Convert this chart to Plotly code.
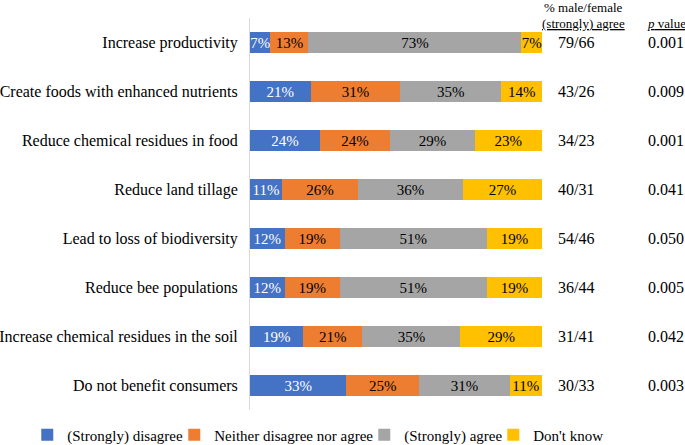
import plotly.graph_objects as go

categories = [
    "Increase productivity",
    "Create foods with enhanced nutrients",
    "Reduce chemical residues in food",
    "Reduce land tillage",
    "Lead to loss of biodiversity",
    "Reduce bee populations",
    "Increase chemical residues in the soil",
    "Do not benefit consumers",
]
series_names = ["(Strongly) disagree", "Neither disagree nor agree", "(Strongly) agree", "Don't know"]
disagree = [7, 21, 24, 11, 12, 12, 19, 33]
neither = [13, 31, 24, 26, 19, 19, 21, 25]
agree = [73, 35, 29, 36, 51, 51, 35, 31]
dont_know = [7, 14, 23, 27, 19, 19, 29, 11]
male_female = ["79/66", "43/26", "34/23", "40/31", "54/46", "36/44", "31/41", "30/33"]
p_values = ["0.001", "0.009", "0.001", "0.041", "0.050", "0.005", "0.042", "0.003"]

colors = ["#4472C4", "#ED7D31", "#A5A5A5", "#FFC000"]
text_colors = ["white", "black", "black", "black"]
legend_widths = [102, 145, 84, 80]
FONT = "Liberation Serif"

fig = go.Figure()
for name, vals, col, tcol, lw in zip(series_names, [disagree, neither, agree, dont_know],
                                     colors, text_colors, legend_widths):
    fig.add_trace(go.Bar(
        y=categories, x=vals, name=name, orientation="h",
        marker=dict(color=col, line=dict(width=0)),
        text=[f"{v}%" for v in vals], textposition="inside",
        insidetextanchor="middle", textangle=0,
        insidetextfont=dict(color=tcol, size=15, family=FONT),
        legendwidth=lw,
    ))

for cat, mf, pv in zip(categories, male_female, p_values):
    fig.add_annotation(x=0.749, y=cat, xref="paper", yref="y", text=mf, showarrow=False,
                       font=dict(size=16, family=FONT, color="black"), xanchor="center")
    fig.add_annotation(x=0.957, y=cat, xref="paper", yref="y", text=pv, showarrow=False,
                       font=dict(size=16, family=FONT, color="black"), xanchor="center")

fig.add_annotation(x=0.766, y=1.028, xref="paper", yref="paper", text="% male/female", showarrow=False,
                   font=dict(size=13, family=FONT, color="black"), xanchor="center", yanchor="middle")
fig.add_annotation(x=0.766, y=0.985, xref="paper", yref="paper",
                   text='<span style="text-decoration:underline">(strongly) agree</span>', showarrow=False,
                   font=dict(size=13, family=FONT, color="black"), xanchor="center", yanchor="middle")
fig.add_annotation(x=0.957, y=0.985, xref="paper", yref="paper",
                   text='<span style="text-decoration:underline"><i>p</i> value</span>', showarrow=False,
                   font=dict(size=13, family=FONT, color="black"), xanchor="center", yanchor="middle")

fig.update_layout(
    width=685, height=445,
    barmode="stack", barnorm="percent", bargap=0.59,
    margin=dict(l=250, r=0, t=18, b=35, autoexpand=False),
    plot_bgcolor="white", paper_bgcolor="white",
    font=dict(family=FONT, size=15, color="black"),
    uniformtext=dict(minsize=15, mode="show"),
    xaxis=dict(domain=[0, 0.671], range=[0, 100], visible=False, fixedrange=True, automargin=False),
    yaxis=dict(autorange="reversed", showline=True, linecolor="#D9D9D9", linewidth=1,
               ticks="", showgrid=False, ticklabelstandoff=8, automargin=False,
               tickfont=dict(size=16, family=FONT, color="black")),
    legend=dict(orientation="h", xref="paper", yref="paper", x=-0.512, y=-0.064,
                xanchor="left", yanchor="middle", font=dict(size=15, family=FONT),
                itemwidth=30, tracegroupgap=0, traceorder="normal"),
    showlegend=True,
)

fig.write_html("out.html", config={"displayModeBar": False},
               post_script="document.body.style.margin='0';")
